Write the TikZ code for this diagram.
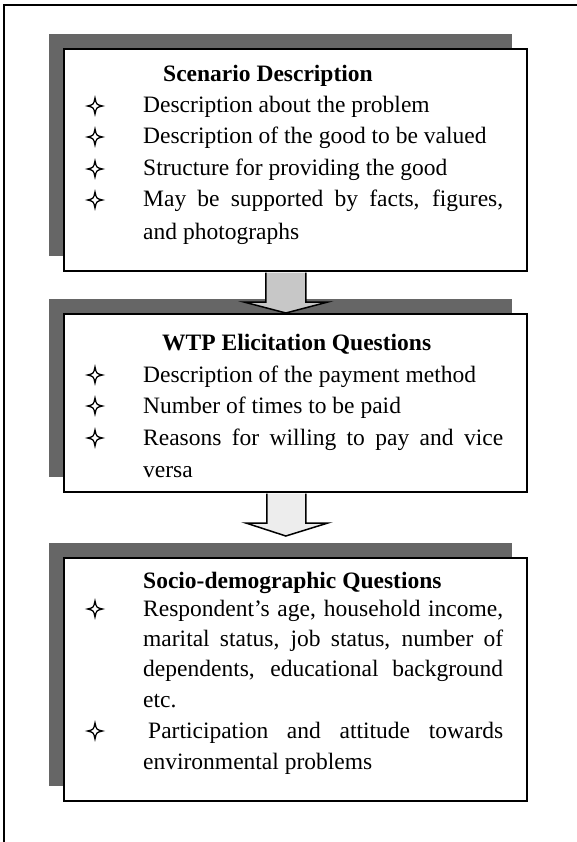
\documentclass[tikz,border=0pt]{standalone}
\usepackage{fontspec}
\setmainfont{Liberation Serif}
\usetikzlibrary{shadows,calc}

\tikzset{
  panel/.style={draw=black, line width=1.7pt, fill=white, inner sep=0pt,
    anchor=north west, minimum width=463pt,
    drop shadow={shadow xshift=-15pt, shadow yshift=15pt, fill=black!60, opacity=1}},
  txt/.style={anchor=base west, inner sep=0pt, font=\fontsize{23.5pt}{28pt}\selectfont},
  headtxt/.style={txt, font=\fontsize{23.5pt}{28pt}\selectfont\bfseries},
  arrowedge/.style={draw=black, line width=1.5pt, line join=miter},
  starbullet/.pic={
    \draw[line width=1.3pt, line join=miter]
      (0,8) .. controls (1.4,1.4) .. (7.5,0) .. controls (1.4,-1.4) .. (0,-8)
      .. controls (-1.4,-1.4) .. (-7.5,0) .. controls (-1.4,1.4) .. cycle;
  }
}
\newcommand{\jline}[1]{\makebox[360pt][s]{#1}}

\begin{document}
\begin{tikzpicture}[x=1pt, y=-1pt]
  \clip (0,0) rectangle (577,842);
  \fill[white] (0,0) rectangle (577,842);
  % outer frame (runs past the right and bottom edges)
  \draw[line width=2pt] (4,5) rectangle (582,848);

  % the three panels
  \node[panel, minimum height=222pt] (b1) at (63,48) {};
  \node[panel, minimum height=178pt] (b2) at (63,313) {};
  \node[panel, minimum height=243pt] (b3) at (63,557) {};

  % block arrow from panel 1 to panel 2
  \fill[black!22] ($(b1.south)+(-29.5,1)$) -- ($(b2.north)+(-29.5,-11)$)
    -- ($(b2.north)+(-51.5,-11)$) -- ($(b2.north)+(-9.5,0)$)
    -- ($(b2.north)+(32.5,-11)$) -- ($(b2.north)+(10.5,-11)$)
    -- ($(b1.south)+(10.5,1)$) -- cycle;
  \draw[arrowedge] ($(b1.south)+(-29.5,1)$) -- ($(b2.north)+(-29.5,-11)$)
    -- ($(b2.north)+(-51.5,-11)$) -- ($(b2.north)+(-9.5,0)$)
    -- ($(b2.north)+(32.5,-11)$) -- ($(b2.north)+(10.5,-11)$)
    -- ($(b1.south)+(10.5,1)$);

  % block arrow from panel 2 to panel 3
  \fill[black!7] ($(b2.south)+(-28.5,1)$) -- ($(b3.north)+(-28.5,-34)$)
    -- ($(b3.north)+(-49.5,-34)$) -- ($(b3.north)+(-9.5,-21)$)
    -- ($(b3.north)+(32.5,-34)$) -- ($(b3.north)+(10.5,-34)$)
    -- ($(b2.south)+(10.5,1)$) -- cycle;
  \draw[arrowedge] ($(b2.south)+(-28.5,1)$) -- ($(b3.north)+(-28.5,-34)$)
    -- ($(b3.north)+(-49.5,-34)$) -- ($(b3.north)+(-9.5,-21)$)
    -- ($(b3.north)+(32.5,-34)$) -- ($(b3.north)+(10.5,-34)$)
    -- ($(b2.south)+(10.5,1)$);

  % panel 1 text
  \node[headtxt] (t1) at (163,82) {Scenario Description};
  \node[txt] (t1a) at (143,113) {Description about the problem};
  \node[txt] (t1b) at (143,144) {Description of the good to be valued};
  \node[txt] (t1c) at (143,176) {Structure for providing the good};
  \node[txt] (t1d) at (143,207) {\jline{May be supported by facts, figures,}};
  \node[txt] (t1e) at (143,240) {and photographs};
  \foreach \y in {113,144,176,207} \pic at (95,\y-7) {starbullet};

  % panel 2 text
  \node[headtxt] (t2) at (162,350) {WTP Elicitation Questions};
  \node[txt] (t2a) at (143,382) {Description of the payment method};
  \node[txt] (t2b) at (143,413) {Number of times to be paid};
  \node[txt] (t2c) at (143,445) {\jline{Reasons for willing to pay and vice}};
  \node[txt] (t2d) at (143,477) {versa};
  \foreach \y in {382,413,445} \pic at (95,\y-7) {starbullet};

  % panel 3 text
  \node[headtxt] (t3) at (143,588) {Socio-demographic Questions};
  \node[txt] (t3a) at (143,616) {\jline{Respondent’s age, household income,}};
  \node[txt] (t3b) at (143,646) {\jline{marital status, job status, number of}};
  \node[txt] (t3c) at (143,676) {\jline{dependents, educational background}};
  \node[txt] (t3d) at (143,707) {etc.};
  \node[txt] (t3e) at (148,738) {\makebox[355pt][s]{Participation and attitude towards}};
  \node[txt] (t3f) at (143,769) {environmental problems};
  \foreach \y in {616,738} \pic at (95,\y-7) {starbullet};
\end{tikzpicture}
\end{document}
